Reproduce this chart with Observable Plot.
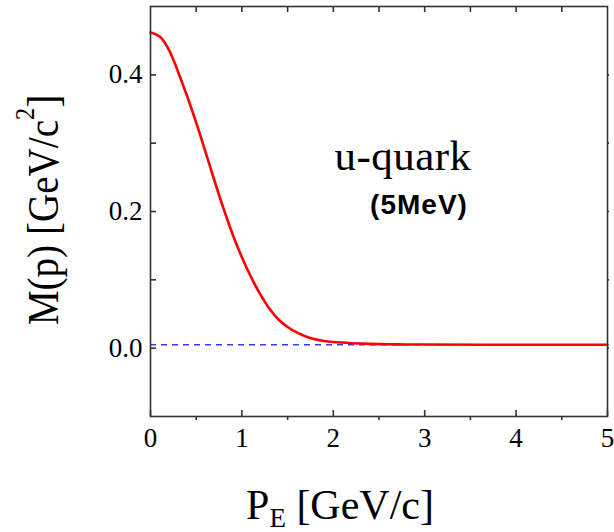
<!DOCTYPE html>
<html>
<head>
<meta charset="utf-8">
<script src="https://cdn.jsdelivr.net/npm/d3@7"></script>
<script src="https://cdn.jsdelivr.net/npm/@observablehq/plot@0.6"></script>
<style>
  body { margin: 0; background: #fff; }
</style>
</head>
<body>
<div id="chart"></div>
<script>
// Data
const pValues = [0, 0.1, 0.2, 0.3, 0.4, 0.5, 0.6, 0.7, 0.8, 0.9, 1.0, 1.1, 1.2, 1.3, 1.4, 1.5, 1.6, 1.7, 1.8, 1.9, 2.0, 2.2, 2.4, 2.7, 3.0, 4.0, 5.0];
const mValues = [0.462, 0.456, 0.437, 0.405, 0.369, 0.330, 0.288, 0.245, 0.204, 0.166, 0.133, 0.104, 0.079, 0.058, 0.042, 0.031, 0.023, 0.017, 0.013, 0.0105, 0.009, 0.0073, 0.0063, 0.0056, 0.0053, 0.005, 0.005];
const currentMass = 0.005; // 5 MeV
const xMajorTicks = [0, 1, 2, 3, 4, 5];
const xMinorTicks = [0.5, 1.5, 2.5, 3.5, 4.5];
const xTopTicks = [0.5, 1, 1.5, 2, 2.5, 3, 3.5, 4, 4.5];
const yTicks = [0, 0.1, 0.2, 0.3, 0.4];
const yLabelTicks = [0, 0.2, 0.4];

const curve = pValues.map((p, i) => ({p, m: mValues[i]}));

const W = 614, H = 532, ML = 150, MR = 7, MT = 6, MB = 116;
const FW = W - ML - MR, FH = H - MT - MB;
const axisColor = "#333";
const serif = "Liberation Serif";

const plot = Plot.plot({
  width: W,
  height: H,
  marginLeft: ML,
  marginRight: MR,
  marginTop: MT,
  marginBottom: MB,
  style: {background: "#fff", color: "#000"},
  x: {domain: [0, 5], axis: null},
  y: {domain: [-0.1, 0.5], axis: null},
  marks: [
    Plot.ruleY([currentMass], {stroke: "#3a3aff", strokeWidth: 1.4, strokeDasharray: "6,5"}),
    Plot.line(curve, {x: "p", y: "m", stroke: "#ff0000", strokeWidth: 2.6, curve: "catmull-rom"}),
    // ticks
    Plot.tickX(xMajorTicks, {x: d => d, insetTop: FH - 6, stroke: axisColor, strokeWidth: 1.6}),
    Plot.tickX(xMinorTicks, {x: d => d, insetTop: FH - 4, dy: 4, stroke: axisColor, strokeWidth: 1.6}),
    Plot.tickX(xTopTicks, {x: d => d, insetBottom: FH - 6, stroke: axisColor, strokeWidth: 1.6}),
    Plot.tickY(yTicks, {y: d => d, insetRight: FW - 6, stroke: axisColor, strokeWidth: 1.6}),
    Plot.tickY(yTicks, {y: d => d, insetLeft: FW - 2, dx: 2, stroke: axisColor, strokeWidth: 1.6}),
    Plot.frame({stroke: axisColor, strokeWidth: 1.6}),
    // tick labels
    Plot.text(xMajorTicks, {x: d => d, frameAnchor: "bottom", dy: 22, text: d => d3.format("d")(d), fontFamily: serif, fontSize: 27, fill: "#000", lineAnchor: "middle"}),
    Plot.text(yLabelTicks, {y: d => d, frameAnchor: "left", dx: -8, textAnchor: "end", text: d => d3.format(".1f")(d), fontFamily: serif, fontSize: 27, fill: "#000"})
  ]
});

document.getElementById("chart").appendChild(plot);

const svg = d3.select(plot);

// Y axis label with superscript
const yl = svg.append("text")
  .attr("transform", "translate(58,210) rotate(-90) scale(0.87,1)")
  .attr("text-anchor", "middle")
  .attr("font-family", serif)
  .attr("font-size", 45)
  .attr("fill", "#000");
yl.append("tspan").text("M(p) [GeV/c");
yl.append("tspan").attr("dy", -24).attr("font-size", 28).text("2");
yl.append("tspan").attr("dy", 24).text("]");

// X axis label with subscript
const xl = svg.append("text")
  .attr("x", 340).attr("y", 519)
  .attr("text-anchor", "middle")
  .attr("font-family", serif)
  .attr("font-size", 42)
  .attr("fill", "#000");
xl.append("tspan").text("P");
xl.append("tspan").attr("dy", 8).attr("font-size", 27).text("E");
xl.append("tspan").attr("dy", -8).text(" [GeV/c]");

// Annotation
svg.append("text")
  .attr("x", 403).attr("y", 170)
  .attr("text-anchor", "middle")
  .attr("font-family", serif)
  .attr("font-size", 43)
  .attr("letter-spacing", 0.5)
  .attr("fill", "#000")
  .text("u-quark");
svg.append("text")
  .attr("x", 419).attr("y", 214)
  .attr("text-anchor", "middle")
  .attr("font-family", "Liberation Sans")
  .attr("font-weight", "bold")
  .attr("font-size", 28)
  .attr("letter-spacing", 1)
  .attr("fill", "#000")
  .text("(5MeV)");
</script>
</body>
</html>
